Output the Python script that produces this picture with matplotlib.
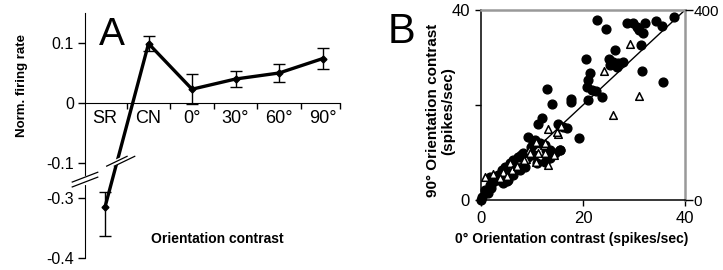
import numpy as np
import matplotlib
matplotlib.use('Agg')
import matplotlib.pyplot as plt

plt.rcParams['font.family'] = ['Liberation Sans', 'DejaVu Sans']

# panel A
categories = ['SR', 'CN', '0°', '30°', '60°', '90°']
rate = [-0.315, 0.099, 0.023, 0.040, 0.050, 0.074]
rate_err = [0.048, 0.012, 0.025, 0.014, 0.015, 0.017]

# panel B
circle_x = [22.7, 24.6, 28.6, 29.9, 30.5, 30.9, 31.8, 32.2, 34.4, 35.4, 37.8, 31.3, 26.3,
            25.0, 25.9, 26.9, 27.9, 26.6, 25.3, 20.6, 21.4, 21.0, 20.7, 21.7, 22.5, 23.7,
            21.0, 31.5, 35.6, 13.0, 13.9, 17.6, 11.9, 11.2, 15.0, 16.1, 16.9, 19.3, 15.5,
            9.3, 10.6, 11.6, 12.5, 9.9, 13.5, 14.5, 8.3, 7.3, 6.3, 5.7, 4.7, 4.1, 3.4, 2.7,
            1.8, 0.8, 0.1, 4.4, 5.0, 6.0, 7.0, 10.9, 12.9, 10.3, 0.0, 1.7, 2.4, 1.4, 2.0,
            3.3, 4.3, 5.3, 6.3, 7.6, 8.6, 7.9, 9.2, 12.5, 13.5, 10.2, 12.8, 15.4, 17.7]
circle_y = [38.0, 35.9, 37.3, 37.2, 36.5, 35.8, 35.1, 37.3, 37.7, 36.6, 38.6, 32.6, 31.6,
            29.6, 29.1, 28.9, 29.1, 28.1, 28.4, 29.6, 26.7, 25.3, 23.7, 23.2, 23.0, 21.6,
            21.1, 27.2, 24.9, 23.3, 20.2, 21.2, 17.2, 16.1, 16.1, 15.4, 15.1, 13.0, 10.5,
            13.3, 12.6, 11.9, 11.6, 11.2, 10.5, 9.8, 9.8, 9.1, 8.4, 7.7, 7.0, 6.3, 5.3, 4.2,
            3.2, 2.1, 0.7, 4.9, 3.9, 5.6, 6.7, 7.7, 9.1, 9.5, 0.1, 4.9, 3.9, 1.4, 2.5,
            4.2, 3.5, 4.2, 5.3, 6.3, 7.0, 9.5, 9.1, 8.1, 8.8, 12.3, 10.5, 10.5, 20.7]
tri_x = [29.3, 24.2, 30.9, 25.8, 13.1, 15.1, 11.0, 12.4, 9.5, 11.2, 12.5, 14.4, 8.9, 10.8,
         13.1, 5.6, 6.0, 4.3, 5.0, 3.7, 0.8, 2.3, 7.0, 8.4, 9.7, 12.6, 10.7, 14.9, 15.6]
tri_y = [32.9, 27.2, 21.9, 18.0, 15.0, 14.0, 11.9, 11.6, 10.5, 10.0, 9.8, 9.5, 8.6, 8.1,
         7.4, 7.7, 6.3, 6.0, 5.1, 4.6, 4.9, 5.5, 7.2, 8.4, 9.8, 11.9, 12.3, 14.4, 15.6]


def fwd(v):
    v = np.asarray(v, float)
    return np.where(v >= -0.1, v, np.where(v <= -0.3, v + 0.1417, -0.1 + (v + 0.1) * 0.2917))


def inv(u):
    u = np.asarray(u, float)
    return np.where(u >= -0.1, u, np.where(u <= -0.1583, u - 0.1417, -0.1 + (u + 0.1) / 0.2917))


fig = plt.figure(figsize=(7.23, 2.70), dpi=100)

ax = fig.add_axes([85 / 723, 12 / 270, 255 / 723, 245 / 270])
ax.set_yscale('function', functions=(fwd, inv))
xs = np.arange(len(categories))
ax.errorbar(xs, rate, yerr=rate_err, color='black', lw=2.4, marker='D', ms=3.5,
            ecolor='black', elinewidth=1, capsize=4, capthick=1, zorder=3)
ax.set_xlim(-0.46, 5.4)
ax.set_ylim(-0.4, 0.15)
ax.spines['top'].set_visible(False)
ax.spines['right'].set_visible(False)
ax.spines['bottom'].set_position(('data', 0))
ax.set_yticks([0.1, 0, -0.1, -0.3, -0.4])
ax.set_yticklabels(['0.1', '0', '-0.1', '-0.3', '-0.4'])
ax.set_xticks([0.5, 1.5, 2.5, 3.5, 4.5, 5.4])
ax.set_xticklabels([])
ax.set_xticks(xs, minor=True)
ax.set_xticklabels(categories, minor=True, fontsize=13)
ax.tick_params(axis='x', which='major', direction='out', length=4, width=1)
ax.tick_params(axis='x', which='minor', length=0, pad=5)
ax.tick_params(axis='y', direction='out', length=5, width=1, labelsize=11.5, pad=3)
ax.set_ylabel('Norm. firing rate', fontsize=9.5, fontweight='bold')
ax.yaxis.set_label_coords(-0.225, 0.706)
ax.set_xlabel('Orientation contrast', fontsize=10, fontweight='bold')
ax.xaxis.set_label_coords(0.518, 0.105)

# axis break marks
for dy in (0.0, 0.02):
    ax.plot([-0.05, 0.05], [0.29 + dy, 0.33 + dy], color='black', lw=0.9,
            transform=ax.transAxes, clip_on=False, zorder=5)
ax.plot([0, 0], [0.305, 0.325], color='white', lw=3, transform=ax.transAxes,
        clip_on=False, zorder=4)
for dx in (0.0, 0.03):
    ax.plot([0.085 + dx, 0.165 + dx], [0.375, 0.415], color='black', lw=0.9,
            transform=ax.transAxes, clip_on=False, zorder=5)
ax.plot([0.1, 0.185], [0.38, 0.42], color='white', lw=4, transform=ax.transAxes,
        clip_on=False, zorder=4)

fig.text(99 / 723, 1 - 45 / 270, 'A', fontsize=28, va='baseline', ha='left')

# panel B
bx = fig.add_axes([481 / 723, 70 / 270, 204 / 723, 190 / 270])
bx.plot([0, 40], [0, 40], color='black', lw=1, zorder=2)
bx.scatter(circle_x, circle_y, s=40, color='black', zorder=3, clip_on=False)
bx.scatter(tri_x, tri_y, s=30, marker='^', facecolor='white', edgecolor='black',
           linewidth=1.1, zorder=4, clip_on=False)
bx.set_xlim(0, 40)
bx.set_ylim(0, 40)
bx.set_xticks([0, 20, 40])
bx.set_yticks([0, 20, 40])
bx.set_yticklabels(['0', '', '40'])
bx.tick_params(direction='out', length=4, width=1, labelsize=12, pad=4)
for s in ('top', 'right'):
    bx.spines[s].set_color('#999999')
    bx.spines[s].set_linewidth(1.8)
for s in ('left', 'bottom'):
    bx.spines[s].set_linewidth(1.1)
bx.set_xlabel('0° Orientation contrast (spikes/sec)', fontsize=10, fontweight='bold')
bx.xaxis.set_label_coords(0.446, -0.17)
bx.set_ylabel('90° Orientation contrast\n(spikes/sec)', fontsize=11, fontweight='bold',
              linespacing=1.1)
bx.yaxis.set_label_coords(-0.125, 0.47)

rx = bx.twinx()
rx.set_ylim(0, 400)
rx.set_yticks([0, 400])
rx.tick_params(direction='out', length=5.5, width=1, labelsize=11, pad=0.5)
for s in rx.spines.values():
    s.set_visible(False)

fig.text(388 / 723, 1 - 43 / 270, 'B', fontsize=30, va='baseline', ha='left')

plt.savefig('out.png', dpi=100)
